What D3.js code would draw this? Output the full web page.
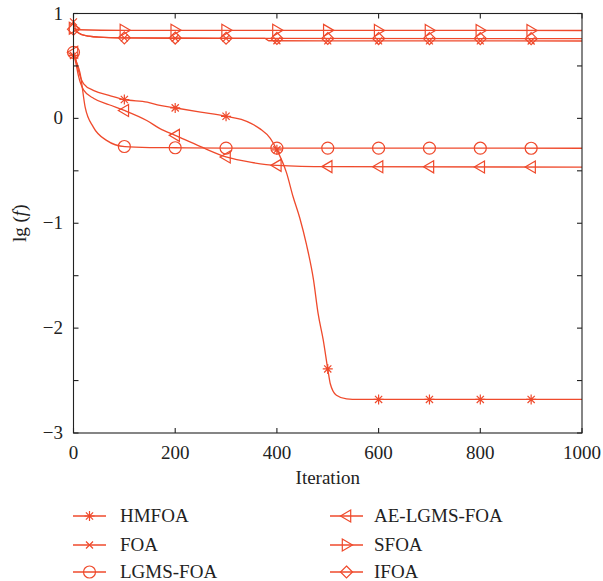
<!DOCTYPE html>
<html><head><meta charset="utf-8">
<script src="https://cdn.jsdelivr.net/npm/d3@7"></script>
<style>body{margin:0;background:#fff}svg{display:block}</style>
</head><body>
<svg id="c" width="603" height="581"></svg>
<script>
// ---- data ----
const seriesNames = ["HMFOA","FOA","LGMS-FOA","AE-LGMS-FOA","SFOA","IFOA"];
const markerIters = [0,100,200,300,400,500,600,700,800,900];
const xTicks = [0,200,400,600,800,1000];
const yTicks = [-3,-2.5,-2,-1.5,-1,-0.5,0,0.5,1];
const yLabels = [-3,-2,-1,0,1];

const hmfoaIter = [0,5,10,20,40,70,100,145,170,200,250,300,330,350,367,387,400,419,432,445,458,472,481,491,501,505,517,537,560,600,1000];
const hmfoaVal  = [0.60,0.55,0.45,0.33,0.265,0.22,0.18,0.155,0.124,0.10,0.06,0.02,-0.01,-0.05,-0.10,-0.19,-0.30,-0.52,-0.75,-0.95,-1.2,-1.54,-1.86,-2.11,-2.42,-2.53,-2.64,-2.675,-2.68,-2.68,-2.68];

const foaIter = [0,5,15,30,50,100,200,376,384,500,1000];
const foaVal  = [0.92,0.84,0.80,0.785,0.775,0.768,0.764,0.762,0.740,0.739,0.738];

const lgmsIter = [0,5,13,23,39,65,101,150,200,300,1000];
const lgmsVal  = [0.63,0.55,0.43,0.105,-0.083,-0.21,-0.27,-0.278,-0.28,-0.283,-0.285];

const aeIter = [0,5,10,20,40,70,100,144,170,200,250,300,350,400,500,1000];
const aeVal  = [0.63,0.52,0.40,0.27,0.19,0.13,0.076,-0.02,-0.098,-0.162,-0.27,-0.368,-0.42,-0.448,-0.46,-0.465];

const sfoaIter = [0,10,100,1000];
const sfoaVal  = [0.86,0.845,0.84,0.838];

const ifoaIter = [0,5,15,30,50,100,400,1000];
const ifoaVal  = [0.85,0.83,0.80,0.785,0.775,0.768,0.762,0.760];

const seriesIters = [hmfoaIter,foaIter,lgmsIter,aeIter,sfoaIter,ifoaIter];
const seriesVals  = [hmfoaVal,foaVal,lgmsVal,aeVal,sfoaVal,ifoaVal];
const seriesMarkers = ["star","x","circle","ltri","rtri","diamond"];

// ---- drawing ----
const color = "#EF4A2C";
const font = "'Liberation Serif','Times New Roman',serif";
const svg = d3.select("#c");
const x = d3.scaleLinear().domain([0,1000]).range([73.5,582]);
const y = d3.scaleLinear().domain([-3,1]).range([433,13.5]);

function interp(iters, vals, it){
  for(let i=0;i<iters.length-1;i++){
    if(it>=iters[i] && it<=iters[i+1]){
      const t=(it-iters[i])/(iters[i+1]-iters[i]);
      return vals[i]+t*(vals[i+1]-vals[i]);
    }
  }
  return vals[vals.length-1];
}

function marker(g, type, cx, cy){
  const s = 6;
  const p = g.append("g").attr("transform",`translate(${cx},${cy})`)
    .attr("fill","none").attr("stroke",color).attr("stroke-width",1.2);
  if(type==="circle") p.append("circle").attr("r",s);
  else if(type==="diamond") p.append("path").attr("d",`M0,${-s}L${s},0L0,${s}L${-s},0Z`);
  else if(type==="rtri") p.append("path").attr("d",`M${-s*0.7},${-s}L${s},0L${-s*0.7},${s}Z`);
  else if(type==="ltri") p.append("path").attr("d",`M${s*0.7},${-s}L${-s},0L${s*0.7},${s}Z`);
  else if(type==="x"){ const a=3.5; p.append("path").attr("d",`M${-a},${-a}L${a},${a}M${-a},${a}L${a},${-a}`); }
  else if(type==="star"){ const a=5, b=3.6; p.append("path").attr("d",`M0,${-a}L0,${a}M${-a},0L${a},0M${-b},${-b}L${b},${b}M${-b},${b}L${b},${-b}`); }
}

const plot = svg.append("g");
const line = d3.line().x(d=>x(d[0])).y(d=>y(d[1])).curve(d3.curveMonotoneX);
seriesNames.forEach((name,i)=>{
  const pts = seriesIters[i].map((it,j)=>[it,seriesVals[i][j]]);
  plot.append("path").datum(pts).attr("d",line)
    .attr("fill","none").attr("stroke",color).attr("stroke-width",1.3);
  markerIters.forEach(it=>{
    marker(plot, seriesMarkers[i], x(it), y(interp(seriesIters[i],seriesVals[i],it)));
  });
});

// axes box with inward ticks
const ax = svg.append("g").attr("stroke","#222").attr("stroke-width",1.1).attr("fill","none");
ax.append("rect").attr("x",x(0)).attr("y",y(1)).attr("width",x(1000)-x(0)).attr("height",y(-3)-y(1));
const tl = 5;
xTicks.forEach(t=>{
  ax.append("line").attr("x1",x(t)).attr("x2",x(t)).attr("y1",y(-3)).attr("y2",y(-3)-tl);
  ax.append("line").attr("x1",x(t)).attr("x2",x(t)).attr("y1",y(1)).attr("y2",y(1)+tl);
});
yTicks.forEach(t=>{
  ax.append("line").attr("y1",y(t)).attr("y2",y(t)).attr("x1",x(0)).attr("x2",x(0)+tl);
  ax.append("line").attr("y1",y(t)).attr("y2",y(t)).attr("x1",x(1000)).attr("x2",x(1000)-tl);
});

const fmt = v => (v<0?"\u2212":"")+Math.abs(v);
svg.append("g").selectAll("text").data(xTicks).join("text")
  .attr("x",d=>x(d)).attr("y",459).attr("text-anchor","middle")
  .attr("font-family",font).attr("font-size",19).attr("fill","#222").text(d=>d);
svg.append("g").selectAll("text").data(yLabels).join("text")
  .attr("x",63).attr("y",d=>y(d)+6).attr("text-anchor","end")
  .attr("font-family",font).attr("font-size",19).attr("fill","#222").text(fmt);

svg.append("text").attr("x",(x(0)+x(1000))/2).attr("y",484).attr("text-anchor","middle")
  .attr("font-family",font).attr("font-size",19).attr("fill","#222").text("Iteration");
const yl = svg.append("text").attr("transform",`translate(26,${(y(1)+y(-3))/2}) rotate(-90)`)
  .attr("text-anchor","middle").attr("font-family",font).attr("font-size",19).attr("fill","#222");
yl.append("tspan").text("lg (");
yl.append("tspan").attr("font-style","italic").text("f");
yl.append("tspan").text(")");

// legend
const legCols = [[73,120],[330,374]];
const legRows = [516,545,572];
seriesNames.forEach((name,i)=>{
  const col = legCols[Math.floor(i/3)], ry = legRows[i%3];
  const lg = svg.append("g");
  lg.append("line").attr("x1",col[0]).attr("x2",col[0]+33).attr("y1",ry).attr("y2",ry)
    .attr("stroke",color).attr("stroke-width",1.3);
  marker(lg, seriesMarkers[i], col[0]+16.5, ry);
  lg.append("text").attr("x",col[1]).attr("y",ry+6).attr("font-family",font).attr("font-size",19)
    .attr("fill","#222").text(name);
});
</script>
</body></html>
